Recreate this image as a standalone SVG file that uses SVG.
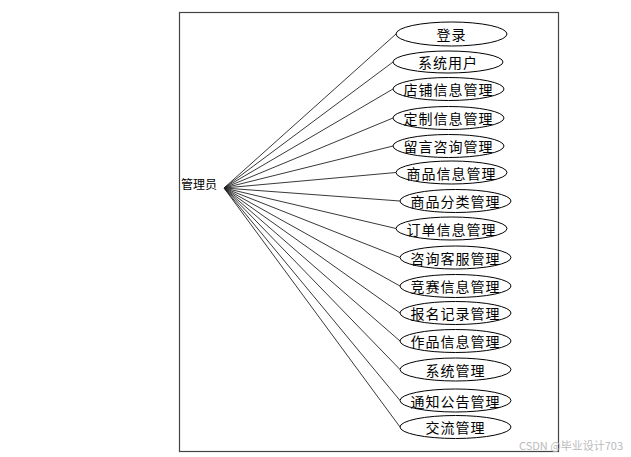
<svg xmlns="http://www.w3.org/2000/svg" width="631" height="457" viewBox="0 0 631 457">
<style>
.uc{fill:#fff;stroke:#000;stroke-width:1}
.t{font-family:"Noto Sans CJK SC","Liberation Sans",sans-serif;font-size:14px;letter-spacing:1px;text-anchor:middle;dominant-baseline:central;fill:#000}
.conn line{stroke:#222;stroke-width:0.9}
</style>
<rect x="0" y="0" width="631" height="457" fill="#fff"/>
<rect id="frame" x="179.5" y="12.5" width="379" height="439" fill="none" stroke="#444" stroke-width="1.2"/>
<g id="actor">
<text x="199" y="183" style="font-family:'Noto Sans CJK SC','Liberation Sans',sans-serif;font-size:12px;text-anchor:middle;dominant-baseline:central">管理员</text>
</g>
<g class="conn" id="connectors">
<line x1="224" y1="188" x2="396" y2="34"/>
<line x1="224" y1="188" x2="393" y2="62"/>
<line x1="224" y1="188" x2="393" y2="89"/>
<line x1="224" y1="188" x2="393" y2="118"/>
<line x1="224" y1="188" x2="393" y2="146"/>
<line x1="224" y1="188" x2="396" y2="172.5"/>
<line x1="224" y1="188" x2="400" y2="201"/>
<line x1="224" y1="188" x2="396" y2="228.5"/>
<line x1="224" y1="188" x2="400" y2="257.5"/>
<line x1="224" y1="188" x2="400" y2="286"/>
<line x1="224" y1="188" x2="400" y2="313"/>
<line x1="224" y1="188" x2="400" y2="341"/>
<line x1="224" y1="188" x2="400" y2="369.5"/>
<line x1="224" y1="188" x2="400" y2="400.5"/>
<line x1="224" y1="188" x2="400" y2="427"/>
</g>
<g id="uc1"><ellipse class="uc" cx="451.5" cy="34" rx="55.5" ry="12"/><text class="t" x="451.5" y="34">登录</text></g>
<g id="uc2"><ellipse class="uc" cx="448" cy="62" rx="55" ry="11"/><text class="t" x="448" y="62">系统用户</text></g>
<g id="uc3"><ellipse class="uc" cx="448.5" cy="89" rx="55.5" ry="11.5"/><text class="t" x="448.5" y="89">店铺信息管理</text></g>
<g id="uc4"><ellipse class="uc" cx="448.5" cy="118" rx="55.5" ry="11.5"/><text class="t" x="448.5" y="118">定制信息管理</text></g>
<g id="uc5"><ellipse class="uc" cx="448.5" cy="146" rx="55.5" ry="11.5"/><text class="t" x="448.5" y="146">留言咨询管理</text></g>
<g id="uc6"><ellipse class="uc" cx="451.5" cy="172.5" rx="55.5" ry="11.5"/><text class="t" x="451.5" y="172.5">商品信息管理</text></g>
<g id="uc7"><ellipse class="uc" cx="455.5" cy="201" rx="55.5" ry="11.5"/><text class="t" x="455.5" y="201">商品分类管理</text></g>
<g id="uc8"><ellipse class="uc" cx="451.5" cy="228.5" rx="55.5" ry="11.5"/><text class="t" x="451.5" y="228.5">订单信息管理</text></g>
<g id="uc9"><ellipse class="uc" cx="455.5" cy="257.5" rx="55.5" ry="11.5"/><text class="t" x="455.5" y="257.5">咨询客服管理</text></g>
<g id="uc10"><ellipse class="uc" cx="455.5" cy="286" rx="55.5" ry="11.5"/><text class="t" x="455.5" y="286">竞赛信息管理</text></g>
<g id="uc11"><ellipse class="uc" cx="455.5" cy="313" rx="55.5" ry="11.5"/><text class="t" x="455.5" y="313">报名记录管理</text></g>
<g id="uc12"><ellipse class="uc" cx="455.5" cy="341" rx="55.5" ry="11.5"/><text class="t" x="455.5" y="341">作品信息管理</text></g>
<g id="uc13"><ellipse class="uc" cx="455.5" cy="369.5" rx="55.5" ry="11.5"/><text class="t" x="455.5" y="369.5">系统管理</text></g>
<g id="uc14"><ellipse class="uc" cx="455.5" cy="400.5" rx="55.5" ry="11.5"/><text class="t" x="455.5" y="400.5">通知公告管理</text></g>
<g id="uc15"><ellipse class="uc" cx="455.5" cy="427" rx="55.5" ry="11.5"/><text class="t" x="455.5" y="427">交流管理</text></g>
<text x="623" y="445" style="font-family:'Noto Sans CJK SC','Liberation Sans',sans-serif;font-size:11px;text-anchor:end;dominant-baseline:central;fill:#bbb">CSDN @毕业设计703</text>
</svg>
